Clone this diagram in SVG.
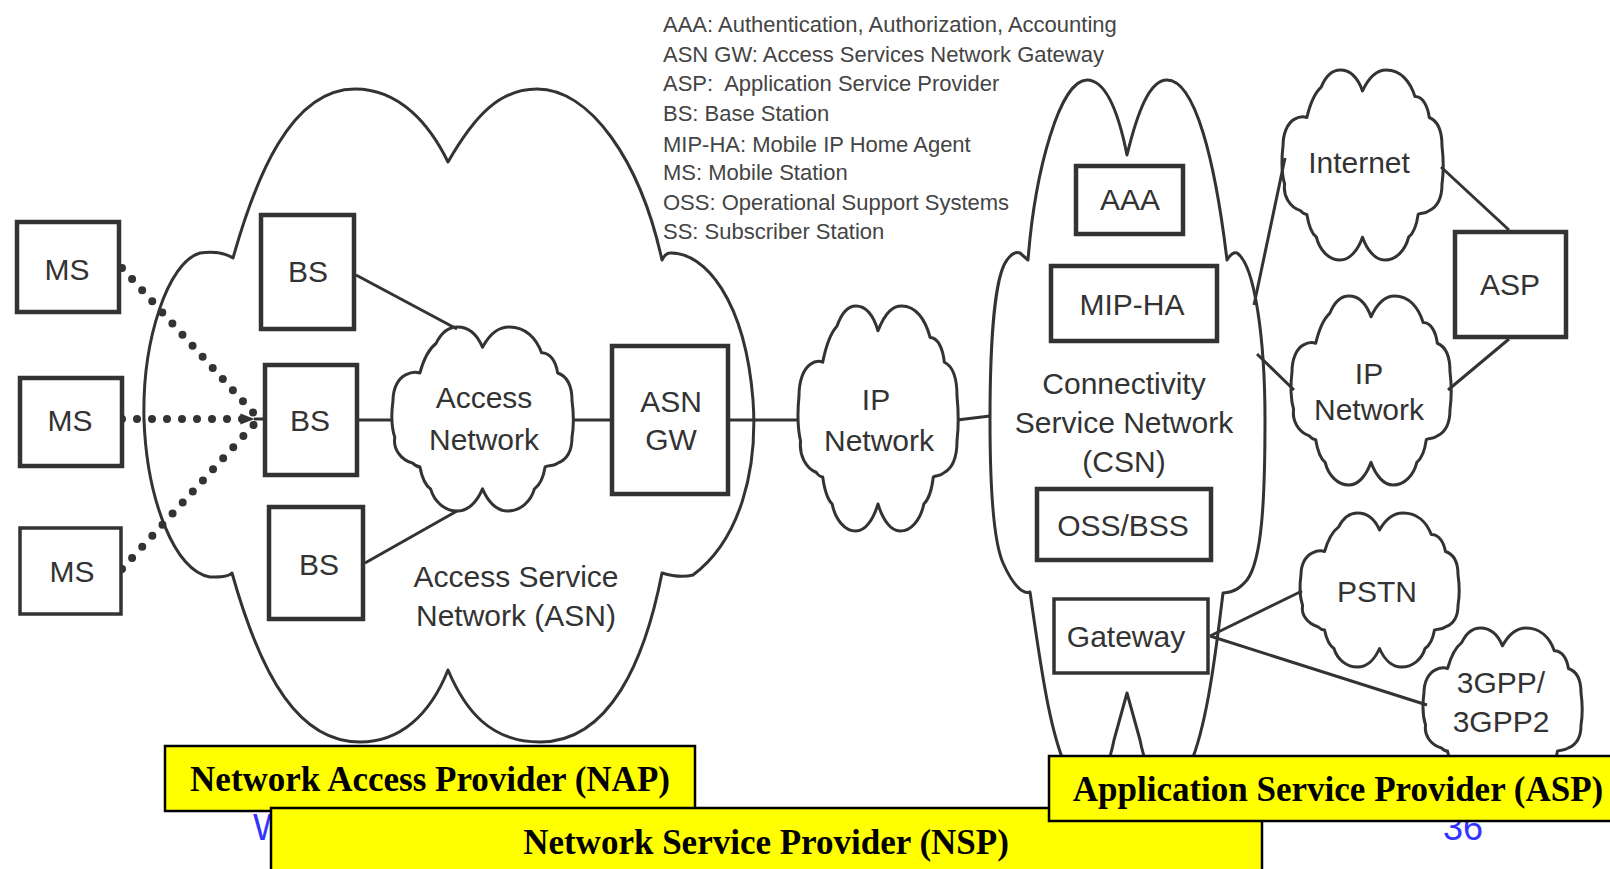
<svg xmlns="http://www.w3.org/2000/svg" xmlns:xlink="http://www.w3.org/1999/xlink" width="1610" height="869" viewBox="0 0 1610 869">
<style>
.cl{fill:#fff;stroke:#333;stroke-width:3;stroke-linejoin:round;vector-effect:non-scaling-stroke}
.bx{fill:#fff;stroke:#333;stroke-width:4.5}
.ln{stroke:#333;stroke-width:3;fill:none}
.dot{stroke:#333;stroke-width:8;stroke-linecap:round;stroke-dasharray:0 15;fill:none}
.lbl{font-family:"Liberation Sans",Arial,sans-serif;font-size:30px;fill:#333;text-anchor:middle}
.leg{font-family:"Liberation Sans",Arial,sans-serif;font-size:22px;fill:#444;white-space:pre}
.yb{fill:#ffff00;stroke:#000;stroke-width:2.5}
.yt{font-family:"Liberation Serif","Times New Roman",serif;font-weight:bold;font-size:35px;fill:#000;text-anchor:middle}
.ft{font-family:"Liberation Sans",Arial,sans-serif;font-size:36px;fill:#3333ff}
</style>
<defs>
<path id="cloud" class="cl" d="M50,11 C55,2 60,0 65,0 C74,0 80,6 83,14 C88,14 91,19 92,25 C98,27 100,33 100,40 C101,47 101,54 100,60 C100,67 97,72 92,74 C89,76 87,75 85,76 C84,82 82,86 79,88 C77,95 71,100 64,100 C58,100 53,95 50,88 C47,95 42,100 36,100 C29,100 23,95 21,88 C18,86 16,81 15,76 C13,76 12,75 11,74 C4,72 0,66 1,60 C-1,54 -1,47 0,40 C0,33 3,28 7,26 C9,25 12,24 15,25 C17,18 20,12 24,9 C27,3 31,0 36,0 C42,0 47,4 50,11 Z"/>
<marker id="ah" viewBox="0 0 10 10" refX="9" refY="5" markerWidth="14" markerHeight="14" markerUnits="userSpaceOnUse" orient="auto">
<path d="M0,1 L10,5 L0,9 Z" fill="#333"/>
</marker>
</defs>

<g id="asn-cloud">
<path class="cl" d="M448,162 C475,115 500,89 537,89 C590,89 640,160 662,260 C664,256 666,253 670,253 C705,252 745,300 753,400 C758,470 740,540 693,575 C682,578 672,576 662,573 C645,660 610,742 540,742 C490,742 465,710 448,670 C430,715 400,742 360,742 C300,742 262,680 232,573 C228,577 220,577 210,577 C175,572 147,500 144,420 C142,340 168,262 200,253 C215,251 225,253 233,258 C255,180 290,89 355,89 C400,89 430,125 448,162 Z"/>
<text class="lbl" x="516" y="587">Access Service</text>
<text class="lbl" x="516" y="626">Network (ASN)</text>
</g>

<g id="csn-cloud">
<path class="cl" d="M1127,155 C1138,110 1150,80 1167,80 C1195,80 1215,160 1227,260 C1230,255 1234,252 1237,253 C1255,265 1265,340 1265,420 C1265,500 1262,560 1247,580 C1240,588 1235,592 1223,593 C1215,660 1205,740 1185,775 C1170,795 1150,790 1140,740 L1127,693 L1114,740 C1104,790 1085,795 1070,775 C1050,740 1040,660 1030,592 C1025,594 1015,590 1003,563 C993,540 990,480 990,420 C990,340 995,275 1007,260 C1012,253 1017,252 1020,253 L1028,260 C1035,170 1060,80 1087,80 C1105,80 1118,110 1127,155 Z"/>
<text class="lbl" x="1124" y="394">Connectivity</text>
<text class="lbl" x="1124" y="433">Service Network</text>
<text class="lbl" x="1124" y="472">(CSN)</text>
</g>

<g id="access-network">
<use xlink:href="#cloud" href="#cloud" transform="translate(393,327) scale(1.79,1.84)"/>
<text class="lbl" x="484" y="408">Access</text>
<text class="lbl" x="484" y="450">Network</text>
</g>

<g id="ip-network-mid">
<use xlink:href="#cloud" href="#cloud" transform="translate(799,306) scale(1.58,2.25)"/>
<text class="lbl" x="876" y="410">IP</text>
<text class="lbl" x="879" y="451">Network</text>
</g>

<g id="internet">
<use xlink:href="#cloud" href="#cloud" transform="translate(1283,70) scale(1.59,1.9)"/>
<text class="lbl" x="1359" y="173">Internet</text>
</g>

<g id="ip-network-right">
<use xlink:href="#cloud" href="#cloud" transform="translate(1292,296) scale(1.58,1.89)"/>
<text class="lbl" x="1369" y="384">IP</text>
<text class="lbl" x="1369" y="420">Network</text>
</g>

<g id="pstn">
<use xlink:href="#cloud" href="#cloud" transform="translate(1301,513) scale(1.57,1.54)"/>
<text class="lbl" x="1377" y="602">PSTN</text>
</g>

<g id="3gpp">
<use xlink:href="#cloud" href="#cloud" transform="translate(1424,628) scale(1.57,1.62)"/>
<text class="lbl" x="1501" y="693">3GPP/</text>
<text class="lbl" x="1501" y="732">3GPP2</text>
</g>

<g id="connectors">
<line class="dot" x1="122" y1="268" x2="259" y2="419"/>
<line class="dot" x1="122" y1="419" x2="253" y2="419" marker-end="url(#ah)"/>
<line class="dot" x1="122" y1="569" x2="259" y2="419"/>
<line class="ln" x1="254" y1="419" x2="263" y2="419"/>
<line class="ln" x1="356" y1="275" x2="457" y2="329"/>
<line class="ln" x1="359" y1="420" x2="393" y2="420"/>
<line class="ln" x1="365" y1="563" x2="457" y2="511"/>
<line class="ln" x1="572" y1="420" x2="610" y2="420"/>
<line class="ln" x1="730" y1="420" x2="799" y2="420"/>
<line class="ln" x1="957" y1="420" x2="990" y2="416"/>
<line class="ln" x1="1254" y1="305" x2="1285" y2="158"/>
<line class="ln" x1="1257" y1="354" x2="1294" y2="390"/>
<line class="ln" x1="1441" y1="167" x2="1509" y2="230"/>
<line class="ln" x1="1448" y1="390" x2="1509" y2="339"/>
<line class="ln" x1="1210" y1="636" x2="1302" y2="591"/>
<line class="ln" x1="1210" y1="636" x2="1427" y2="705"/>
</g>

<g id="ms1"><rect class="bx" x="17" y="222" width="102" height="90"/><text class="lbl" x="67" y="280">MS</text></g>
<g id="ms2"><rect class="bx" x="20" y="378" width="102" height="88"/><text class="lbl" x="70" y="431">MS</text></g>
<g id="ms3"><rect class="bx" x="20" y="528" width="101" height="86" style="stroke-width:3.5"/><text class="lbl" x="72" y="582">MS</text></g>
<g id="bs1"><rect class="bx" x="261" y="215" width="93" height="114"/><text class="lbl" x="308" y="282">BS</text></g>
<g id="bs2"><rect class="bx" x="265" y="365" width="92" height="110"/><text class="lbl" x="310" y="431">BS</text></g>
<g id="bs3"><rect class="bx" x="269" y="507" width="94" height="112"/><text class="lbl" x="319" y="575">BS</text></g>
<g id="asn-gw"><rect class="bx" x="612" y="346" width="116" height="148"/><text class="lbl" x="671" y="412">ASN</text><text class="lbl" x="671" y="450">GW</text></g>
<g id="aaa"><rect class="bx" x="1076" y="166" width="107" height="68"/><text class="lbl" x="1130" y="210">AAA</text></g>
<g id="mip-ha"><rect class="bx" x="1051" y="266" width="166" height="75"/><text class="lbl" x="1132" y="315">MIP-HA</text></g>
<g id="oss-bss"><rect class="bx" x="1037" y="489" width="174" height="71"/><text class="lbl" x="1123" y="536">OSS/BSS</text></g>
<g id="gateway"><rect class="bx" x="1054" y="599" width="154" height="74" style="stroke-width:3.5"/><text class="lbl" x="1126" y="647">Gateway</text></g>
<g id="asp"><rect class="bx" x="1455" y="232" width="111" height="105"/><text class="lbl" x="1510" y="295">ASP</text></g>

<g id="legend">
<text class="leg" x="663" y="31.5">AAA: Authentication, Authorization, Accounting</text>
<text class="leg" x="663" y="61.5">ASN GW: Access Services Network Gateway</text>
<text class="leg" x="663" y="91">ASP:  Application Service Provider</text>
<text class="leg" x="663" y="121">BS: Base Station</text>
<text class="leg" x="663" y="151.5">MIP-HA: Mobile IP Home Agent</text>
<text class="leg" x="663" y="180">MS: Mobile Station</text>
<text class="leg" x="663" y="210">OSS: Operational Support Systems</text>
<text class="leg" x="663" y="238.5">SS: Subscriber Station</text>
</g>

<g id="footer">
<text class="ft" x="253" y="840">W</text>
<text class="ft" x="1443" y="840">36</text>
</g>

<g id="nap"><rect class="yb" x="165" y="746" width="530" height="65"/><text class="yt" x="430" y="791">Network Access Provider (NAP)</text></g>
<g id="nsp"><rect class="yb" x="271" y="808" width="991" height="64"/><text class="yt" x="766" y="854">Network Service Provider (NSP)</text></g>
<g id="asp-provider"><rect class="yb" x="1049" y="756" width="564" height="65"/><text class="yt" x="1338" y="801">Application Service Provider (ASP)</text></g>
</svg>
